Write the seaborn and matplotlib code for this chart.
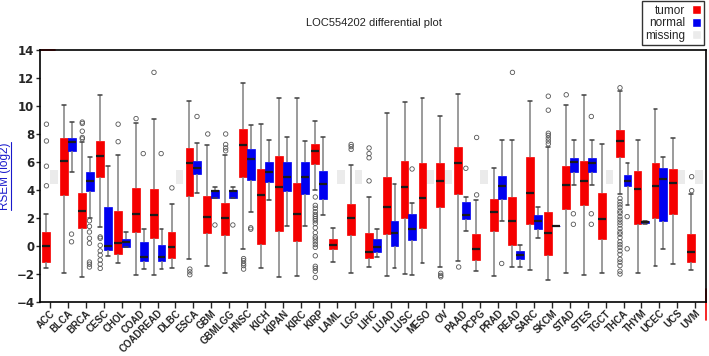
import numpy as np
import pandas as pd
import matplotlib
matplotlib.use("Agg")
import matplotlib.pyplot as plt
from matplotlib.patches import Patch
from matplotlib.lines import Line2D
import seaborn as sns

sns.set_style("white")
plt.rcParams['font.family'] = ['DejaVu Sans']

cancers = ['ACC', 'BLCA', 'BRCA', 'CESC', 'CHOL', 'COAD', 'COADREAD', 'DLBC', 'ESCA', 'GBM',
           'GBMLGG', 'HNSC', 'KICH', 'KIPAN', 'KIRC', 'KIRP', 'LAML', 'LGG', 'LIHC', 'LUAD',
           'LUSC', 'MESO', 'OV', 'PAAD', 'PCPG', 'PRAD', 'READ', 'SARC', 'SKCM', 'STAD',
           'STES', 'TGCT', 'THCA', 'THYM', 'UCEC', 'UCS', 'UVM']

# tumor: whisker low, q1, median, q3, whisker high
tumor_lo = [-1.6, -1.95, -2.25, 1.35, -1.25, -2.05, -2.05, -1.55, -0.9, -1.4,
            -1.95, -0.25, -1.6, -2.2, -2.15, 4.0, -1.15, -1.9, -1.5, -2.15,
            -2.0, -1.2, -1.5, -1.05, -1.8, -2.15, -1.5, -1.7, -2.45, -1.95,
            -2.05, -1.9, 3.7, -1.95, -1.4, -1.3, -1.75]
tumor_q1 = [-1.15, 3.65, 1.25, 4.9, -0.55, 1.0, 0.6, -0.85, 3.6, 0.9,
            0.8, 4.9, 0.15, 1.1, 0.35, 5.85, -0.2, 0.75, -0.85, 0.85,
            2.0, 1.25, 2.75, 3.7, -1.0, 1.05, 0.05, 1.6, -0.65, 2.65,
            2.9, 0.5, 6.35, 1.6, 2.0, 2.25, -1.15]
tumor_med = [0.0, 6.05, 2.5, 6.45, 0.2, 2.3, 2.2, -0.1, 5.9, 2.1,
             2.0, 7.2, 3.65, 4.2, 2.3, 6.75, 0.05, 2.0, -0.45, 2.75,
             4.2, 3.4, 4.65, 5.9, -0.2, 2.4, 1.75, 3.75, 0.9, 4.35,
             4.65, 1.9, 7.5, 4.05, 4.3, 4.5, -0.4]
tumor_q3 = [1.0, 7.7, 3.75, 7.5, 2.5, 4.15, 4.05, 1.0, 7.0, 3.6,
            3.1, 8.35, 5.5, 6.45, 4.5, 7.25, 0.5, 3.0, 0.9, 4.9,
            6.05, 5.9, 5.95, 7.1, 0.85, 3.35, 3.5, 6.35, 2.4, 5.7,
            6.1, 3.8, 8.3, 5.35, 5.95, 5.5, 0.85]
tumor_hi = [2.3, 10.1, 7.4, 10.8, 6.5, 8.8, 9.1, 3.0, 10.35, 7.2,
            6.5, 11.65, 8.7, 10.55, 10.55, 8.9, 1.25, 5.8, 3.5, 9.5,
            10.3, 10.6, 9.3, 10.85, 3.3, 5.55, 7.6, 10.35, 7.1, 10.05,
            10.8, 7.25, 11.05, 7.6, 9.8, 7.7, 3.7]
tumor_out = [[4.3, 5.7, 7.5, 8.7], [], [7.65, 7.75, 8.2, 8.75, 8.85],
             [0.65, 0.55, 0.05, -0.35, -0.65, -1.0, -1.3, -1.6], [7.45, 8.7], [9.1], [12.4],
             [4.15], [-1.65, -1.85, -2.05], [8.0], [6.8, 7.0, 7.25, 8.0],
             [-0.9, -1.05, -1.25, -1.4, -1.65], [], [], [],
             [3.5, 2.9, 2.7, 2.45, 2.25, 2.1, 1.95, 1.8, 1.6, 1.3, 0.95, 0.65, 0.5, 0.3, 0.1,
              -0.1, -0.7, -1.45, -1.6, -1.8, -2.25],
             [], [6.9, 7.1, 7.25], [4.65, 6.3, 6.6, 7.0], [], [], [], [-1.95, -2.1, -2.2],
             [-1.5], [3.65, 7.75], [], [12.4], [], [7.3, 7.5, 7.7, 7.9, 8.05, 9.7, 10.7],
             [10.8], [], [],
             [11.3, 3.4, 3.15, 2.95, 2.75, 2.5, 2.35, 2.1, 1.9, 1.7, 1.5, 1.25, 1.0, 0.85, 0.6,
              0.3, 0.1, -0.1, -0.35, -0.6, -0.95, -1.15, -1.4, -1.8, -2.0],
             [], [], [], [3.95, 4.95]]

# normal (None = missing)
normal_lo = [None, 5.3, 2.0, -0.7, -0.1, -1.65, -1.65, None, 3.8, 3.4,
             3.4, 2.4, 3.3, 1.45, 1.45, 2.2, None, None, -0.8, -1.6,
             -2.1, None, None, 1.05, None, 1.8, -1.5, 0.6, 1.45, 4.35,
             4.35, None, 2.95, 1.6, -0.25, None, None]
normal_q1 = [None, 6.8, 3.9, -0.3, -0.05, -1.05, -1.05, None, 5.15, 3.4,
             3.4, 4.7, 4.6, 3.9, 3.7, 3.35, None, None, -0.4, 0.0,
             0.4, None, None, 1.9, None, 3.35, -0.95, 1.2, 1.45, 5.25,
             5.25, None, 4.3, 1.65, 1.8, None, None]
normal_med = [None, 7.4, 4.65, 0.0, 0.25, -0.8, -0.8, None, 5.55, 3.95,
              3.95, 6.2, 5.25, 4.9, 4.9, 4.45, None, None, -0.1, 0.95,
              1.2, None, None, 2.2, None, 4.3, -0.65, 1.75, 1.45, 6.0,
              5.9, None, 4.65, 1.7, 4.75, None, None]
normal_q3 = [None, 7.7, 5.25, 2.8, 0.5, 0.3, 0.1, None, 6.1, 4.0,
             4.0, 6.9, 6.0, 6.0, 6.0, 5.35, None, None, 0.5, 1.8,
             2.25, None, None, 3.15, None, 5.0, -0.35, 2.2, 1.45, 6.25,
             6.25, None, 5.1, 1.75, 5.6, None, None]
normal_hi = [None, 8.85, 6.35, 5.7, 1.0, 1.2, 1.2, None, 7.35, 4.2,
             4.2, 8.65, 7.6, 7.75, 7.5, 7.75, None, None, 1.2, 4.45,
             3.1, None, None, 3.5, None, 7.6, 0.05, 2.75, 1.45, 7.6,
             7.6, None, 5.95, 1.8, 6.35, None, None]
normal_out = [[], [0.85, 0.3], [1.8, 1.4, 1.0, 0.55, 0.2, -1.15, -1.3, -1.5], [], [], [6.6], [6.6],
              [], [9.25], [1.5], [1.5], [1.3, 1.2], [], [], [], [], [], [], [], [], [5.5], [], [],
              [5.55], [], [-1.25], [], [], [], [2.3, 1.55], [2.3, 1.55, 9.25], [], [2.1, -0.2],
              [], [], [], []]

missing_lo, missing_hi = 4.4, 5.4

RED = '#f50000'
BLUE = '#0000f0'
GREY = '#ebebeb'

# long-form tables
rows = []
for i, c in enumerate(cancers):
    for v in (tumor_lo[i], tumor_q1[i], tumor_med[i], tumor_q3[i], tumor_hi[i]):
        rows.append((c, 'tumor', v))
    if normal_med[i] is not None:
        for v in (normal_lo[i], normal_q1[i], normal_med[i], normal_q3[i], normal_hi[i]):
            rows.append((c, 'normal', v))
box_df = pd.DataFrame(rows, columns=['cancer', 'type', 'value'])

frows = []
for i, c in enumerate(cancers):
    for v in tumor_out[i]:
        frows.append((c, 'tumor', v))
    for v in normal_out[i]:
        frows.append((c, 'normal', v))
out_df = pd.DataFrame(frows, columns=['cancer', 'type', 'value'])

fig = plt.figure(figsize=(7.09, 3.56), dpi=100)
ax = fig.add_axes([0.0564, 0.1517, 0.9394, 0.7079])

# missing placeholders
miss_idx = [i for i, m in enumerate(normal_med) if m is None]
ax.bar(np.array(miss_idx) + 0.22, missing_hi - missing_lo, bottom=missing_lo, width=0.42,
       color=GREY, linewidth=0, zorder=0.5)

n_before = len(ax.patches)
sns.boxplot(data=box_df, x='cancer', y='value', hue='type', order=cancers,
            hue_order=['tumor', 'normal'], palette={'tumor': RED, 'normal': BLUE},
            saturation=1, whis=(0, 100), showfliers=False, width=0.88, dodge=True,
            legend=False,
            medianprops=dict(color='#1a1a1a', linewidth=1.6),
            whiskerprops=dict(color='#808080', linewidth=1.1),
            capprops=dict(color='#404040', linewidth=1.1),
            ax=ax)
for p in ax.patches[n_before:]:
    p.set_edgecolor(p.get_facecolor())
    p.set_linewidth(0.5)

n_coll = len(ax.collections)
sns.stripplot(data=out_df, x='cancer', y='value', hue='type', order=cancers,
              hue_order=['tumor', 'normal'], palette={'tumor': 'white', 'normal': 'white'},
              dodge=True, jitter=False, size=3.2, linewidth=0.6, edgecolor='#555555',
              legend=False, ax=ax)
for coll in ax.collections[n_coll:]:
    coll.set_facecolor('none')

ax.set_xlim(-0.56, 36.6)
ax.set_ylim(-4, 14)
ax.set_yticks(np.arange(-4, 15, 2))
ax.set_xlabel('')
ax.set_ylabel('RSEM (log2)', color='#1a1acc', fontsize=8.5, family='Liberation Sans', labelpad=4)

ax.tick_params(axis='x', direction='out', length=4, width=1, pad=0.5, bottom=True)
ax.tick_params(axis='y', direction='out', length=3, width=1, pad=1, left=True)
plt.setp(ax.get_xticklabels(), rotation=45, ha='right', rotation_mode='anchor',
         fontsize=7, fontweight='bold', family='Liberation Sans')
plt.setp(ax.get_yticklabels(), fontsize=8.5, fontweight='bold')
for s in ax.spines.values():
    s.set_color('black')
    s.set_linewidth(1.2)

# stray red marks seen on the original frame
ax.plot([0, 0.022], [1, 1], color=RED, lw=1.2, transform=ax.transAxes, clip_on=False)
ax.plot([1, 1], [-0.07, 0.05], color=RED, lw=1.2, transform=ax.transAxes, clip_on=False)

fig.suptitle('LOC554202 differential plot', x=0.527, y=0.95, fontsize=8,
             family='Liberation Sans', color='#222222')

handles = [Patch(facecolor=RED), Patch(facecolor=BLUE), Patch(facecolor=GREY)]
leg = fig.legend(handles, ['tumor', 'normal', 'missing'], loc='upper right',
                 bbox_to_anchor=(0.995, 1.0), markerfirst=False, frameon=True,
                 fancybox=False, edgecolor='#333333', framealpha=1,
                 handlelength=0.7, handleheight=0.8, handletextpad=0.6,
                 labelspacing=0.05, borderpad=0.3, borderaxespad=0.1,
                 prop={'family': 'Liberation Sans', 'size': 8.5})
leg.get_frame().set_linewidth(1.0)

# underline for the y label
fig.canvas.draw()
bb = ax.yaxis.label.get_window_extent(fig.canvas.get_renderer())
inv = fig.transFigure.inverted()
(x0, y0), (x1, y1) = inv.transform([(bb.x1 + 0.5, bb.y0), (bb.x1 + 0.5, bb.y1)])
fig.add_artist(Line2D([x0, x1], [y0, y1], color='#1a1acc', lw=0.8))

fig.savefig('out.png', dpi=100)
